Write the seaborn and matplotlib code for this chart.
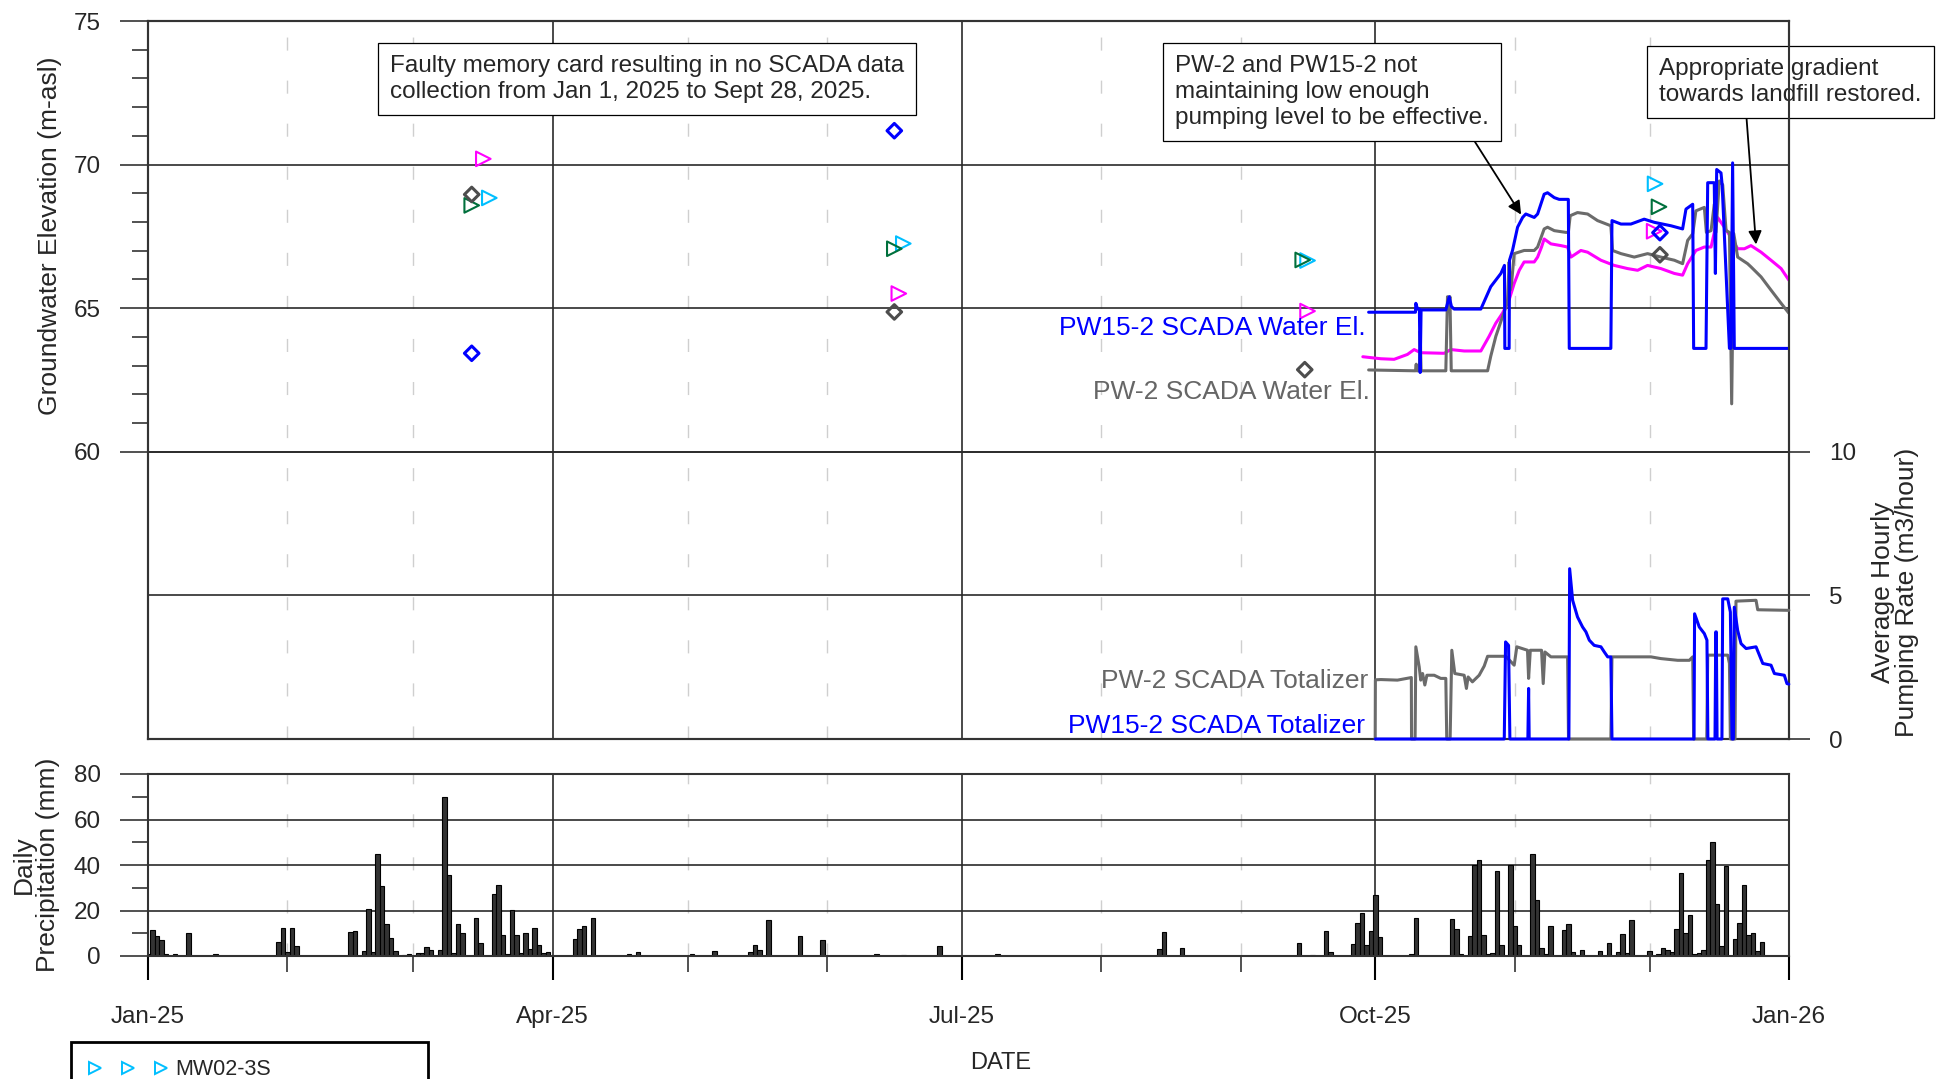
import numpy as np
import pandas as pd
import matplotlib
matplotlib.use("Agg")
import matplotlib.pyplot as plt
import matplotlib.dates as mdates
from matplotlib.ticker import FixedLocator
from matplotlib.lines import Line2D
import seaborn as sns

# ---------------------------------------------------------------- data
# PW15-2 SCADA water elevation (m-asl)
pw15_wl_time = [
    "2025-09-29 12:00", "2025-10-09 22:00", "2025-10-10 00:00", "2025-10-10 09:00",
    "2025-10-10 19:00", "2025-10-10 23:00", "2025-10-11 04:00", "2025-10-16 16:00",
    "2025-10-17 10:00", "2025-10-17 22:00", "2025-10-18 12:00", "2025-10-24 11:00",
    "2025-10-26 16:00", "2025-10-28 22:00", "2025-10-29 17:00", "2025-10-29 19:00",
    "2025-10-30 18:00", "2025-10-30 20:00", "2025-10-31 12:00", "2025-11-01 15:00",
    "2025-11-02 18:00", "2025-11-03 11:00", "2025-11-05 08:00", "2025-11-06 02:00",
    "2025-11-07 13:00", "2025-11-08 07:00", "2025-11-09 19:00", "2025-11-10 21:00",
    "2025-11-12 22:00", "2025-11-13 03:00", "2025-11-22 09:00", "2025-11-22 15:00",
    "2025-11-24 15:00", "2025-11-26 20:00", "2025-11-29 19:00", "2025-12-02 01:00",
    "2025-12-05 18:00", "2025-12-08 08:00", "2025-12-09 02:00", "2025-12-10 14:00",
    "2025-12-10 19:00", "2025-12-13 13:00", "2025-12-13 22:00", "2025-12-15 09:00",
    "2025-12-15 15:00", "2025-12-15 22:00", "2025-12-16 21:00", "2025-12-17 03:00",
    "2025-12-18 18:00", "2025-12-19 02:00", "2025-12-19 11:00", "2025-12-19 20:00",
    "2025-12-31 23:00",
]
pw15_wl_elev = [
    64.86, 64.86, 65.17, 64.97, 64.97, 62.76, 64.94, 64.94,
    65.40, 65.06, 64.97, 64.97, 65.75, 66.21, 66.49, 63.60,
    63.60, 66.67, 67.01, 67.82, 68.16, 68.28, 68.16, 68.28,
    68.97, 69.02, 68.85, 68.79, 68.79, 63.60, 63.60, 68.05,
    67.93, 67.93, 68.10, 67.99, 67.87, 67.76, 68.45, 68.62,
    63.60, 63.60, 69.37, 69.37, 66.21, 69.83, 69.71, 69.30,
    63.60, 63.60, 70.06, 63.60, 63.60,
]

# PW-2 SCADA water elevation (m-asl)
pw2_wl_time = [
    "2025-09-29 12:00", "2025-10-09 22:00", "2025-10-10 02:00", "2025-10-10 05:00",
    "2025-10-10 19:00", "2025-10-10 23:00", "2025-10-11 04:00", "2025-10-16 16:00",
    "2025-10-17 01:00", "2025-10-17 06:00", "2025-10-17 14:00", "2025-10-17 21:00",
    "2025-10-25 23:00", "2025-10-26 16:00", "2025-10-27 19:00", "2025-10-29 07:00",
    "2025-10-30 09:00", "2025-10-30 18:00", "2025-10-31 00:00", "2025-10-31 07:00",
    "2025-10-31 21:00", "2025-11-03 02:00", "2025-11-05 08:00", "2025-11-06 02:00",
    "2025-11-07 13:00", "2025-11-08 07:00", "2025-11-09 19:00", "2025-11-12 09:00",
    "2025-11-12 22:00", "2025-11-13 08:00", "2025-11-14 23:00", "2025-11-17 05:00",
    "2025-11-19 10:00", "2025-11-22 09:00", "2025-11-22 18:00", "2025-11-24 15:00",
    "2025-11-27 14:00", "2025-11-30 13:00", "2025-12-03 12:00", "2025-12-06 12:00",
    "2025-12-08 08:00", "2025-12-09 11:00", "2025-12-10 14:00", "2025-12-11 07:00",
    "2025-12-13 04:00", "2025-12-13 15:00", "2025-12-14 16:00", "2025-12-15 09:00",
    "2025-12-15 18:00", "2025-12-16 12:00", "2025-12-17 06:00", "2025-12-18 00:00",
    "2025-12-18 18:00", "2025-12-19 06:00", "2025-12-19 17:00", "2025-12-20 14:00",
    "2025-12-22 19:00", "2025-12-23 13:00", "2025-12-25 19:00", "2025-12-28 00:00",
    "2025-12-30 06:00", "2025-12-31 23:00",
]
pw2_wl_elev = [
    62.85, 62.82, 63.05, 62.82, 62.82, 64.20, 62.82, 62.82,
    65.40, 64.90, 65.40, 62.82, 62.82, 63.33, 64.02, 64.71,
    65.20, 66.61, 65.63, 65.86, 66.90, 67.01, 67.01, 67.13,
    67.76, 67.82, 67.70, 67.64, 67.64, 68.22, 68.33, 68.28,
    68.05, 67.87, 67.01, 66.90, 66.78, 66.90, 66.78, 66.67,
    66.55, 67.36, 67.59, 68.39, 68.51, 67.64, 67.70, 68.62,
    67.64, 69.43, 69.30, 67.70, 67.64, 61.67, 67.60, 66.78,
    66.55, 66.44, 66.09, 65.63, 65.17, 64.83,
]

# monitoring-well transducer water elevation (m-asl)
mw_wl_time = [
    "2025-09-28 05:00", "2025-10-02 05:00", "2025-10-05 04:00", "2025-10-08 03:00",
    "2025-10-09 15:00", "2025-10-11 02:00", "2025-10-16 07:00", "2025-10-17 19:00",
    "2025-10-20 18:00", "2025-10-24 11:00", "2025-10-26 07:00", "2025-10-27 19:00",
    "2025-10-29 07:00", "2025-10-30 18:00", "2025-10-31 21:00", "2025-11-02 00:00",
    "2025-11-03 02:00", "2025-11-05 08:00", "2025-11-06 02:00", "2025-11-06 23:00",
    "2025-11-07 13:00", "2025-11-09 01:00", "2025-11-11 06:00", "2025-11-12 18:00",
    "2025-11-13 12:00", "2025-11-15 17:00", "2025-11-17 05:00", "2025-11-20 04:00",
    "2025-11-23 03:00", "2025-11-26 02:00", "2025-11-28 08:00", "2025-11-30 13:00",
    "2025-12-03 12:00", "2025-12-06 12:00", "2025-12-08 08:00", "2025-12-09 11:00",
    "2025-12-11 07:00", "2025-12-13 04:00", "2025-12-14 16:00", "2025-12-16 03:00",
    "2025-12-17 15:00", "2025-12-19 02:00", "2025-12-20 14:00", "2025-12-22 02:00",
    "2025-12-23 13:00", "2025-12-25 19:00", "2025-12-28 00:00", "2025-12-30 06:00",
    "2025-12-31 23:00",
]
mw_wl_elev = [
    63.31, 63.24, 63.22, 63.39, 63.56, 63.45, 63.43, 63.56,
    63.51, 63.51, 64.02, 64.48, 64.83, 65.29, 65.86, 66.32,
    66.61, 66.61, 66.78, 67.13, 67.41, 67.24, 67.18, 67.13,
    66.78, 67.01, 66.95, 66.67, 66.49, 66.38, 66.32, 66.49,
    66.38, 66.21, 66.15, 66.55, 67.01, 67.13, 67.13, 68.16,
    67.82, 67.47, 67.07, 67.07, 67.18, 66.95, 66.67, 66.38,
    65.98,
]

# PW-2 SCADA totalizer, average hourly pumping rate (m3/hour)
pw2_rate_time = [
    "2025-09-30 23:00", "2025-10-01 00:00", "2025-10-02 05:00", "2025-10-05 22:00",
    "2025-10-09 00:00", "2025-10-09 01:00", "2025-10-09 20:00", "2025-10-10 00:00",
    "2025-10-10 18:00", "2025-10-11 02:00", "2025-10-11 12:00", "2025-10-12 00:00",
    "2025-10-12 11:00", "2025-10-14 02:00", "2025-10-15 13:00", "2025-10-16 16:00",
    "2025-10-16 21:00", "2025-10-17 15:00", "2025-10-18 00:00", "2025-10-18 16:00",
    "2025-10-20 18:00", "2025-10-21 06:00", "2025-10-21 15:00", "2025-10-22 14:00",
    "2025-10-24 02:00", "2025-10-25 05:00", "2025-10-25 23:00", "2025-10-30 00:00",
    "2025-10-31 21:00", "2025-11-01 11:00", "2025-11-03 20:00", "2025-11-04 02:00",
    "2025-11-04 11:00", "2025-11-06 23:00", "2025-11-07 08:00", "2025-11-07 17:00",
    "2025-11-09 01:00", "2025-11-12 18:00", "2025-11-12 23:00", "2025-11-22 09:00",
    "2025-11-22 15:00", "2025-12-01 07:00", "2025-12-03 12:00", "2025-12-07 06:00",
    "2025-12-09 20:00", "2025-12-10 14:00", "2025-12-10 19:00", "2025-12-13 17:00",
    "2025-12-13 22:00", "2025-12-18 09:00", "2025-12-18 18:00", "2025-12-18 23:00",
    "2025-12-20 00:00", "2025-12-20 05:00", "2025-12-24 16:00", "2025-12-25 01:00",
    "2025-12-31 23:00",
]
pw2_rate = [
    0.00, 2.06, 2.07, 2.05, 2.14, 0.00, 0.00, 3.21,
    2.51, 2.05, 2.28, 1.88, 2.22, 2.22, 2.11, 2.11,
    0.00, 0.00, 3.09, 2.28, 2.22, 1.76, 2.16, 1.99,
    2.22, 2.54, 2.88, 2.88, 2.57, 3.21, 3.09, 2.11,
    3.09, 3.09, 1.93, 3.03, 2.86, 2.86, 0.00, 0.00,
    2.86, 2.86, 2.80, 2.74, 2.74, 2.86, 0.00, 0.00,
    2.92, 2.92, 2.63, 0.00, 0.00, 4.80, 4.83, 4.50,
    4.48,
]

# PW15-2 SCADA totalizer, average hourly pumping rate (m3/hour)
pw15_rate_time = [
    "2025-10-01 00:00", "2025-10-29 16:00", "2025-10-29 23:00", "2025-10-30 15:00",
    "2025-10-30 22:00", "2025-11-03 22:00", "2025-11-04 02:00", "2025-11-04 05:00",
    "2025-11-13 01:00", "2025-11-13 05:00", "2025-11-13 21:00", "2025-11-14 23:00",
    "2025-11-16 02:00", "2025-11-16 20:00", "2025-11-17 14:00", "2025-11-18 16:00",
    "2025-11-20 04:00", "2025-11-20 22:00", "2025-11-21 16:00", "2025-11-22 09:00",
    "2025-11-22 15:00", "2025-12-10 21:00", "2025-12-11 00:00", "2025-12-12 01:00",
    "2025-12-13 04:00", "2025-12-13 18:00", "2025-12-13 23:00", "2025-12-15 13:00",
    "2025-12-15 17:00", "2025-12-15 20:00", "2025-12-16 00:00", "2025-12-17 02:00",
    "2025-12-17 06:00", "2025-12-18 09:00", "2025-12-18 23:00", "2025-12-19 08:00",
    "2025-12-19 15:00", "2025-12-19 20:00", "2025-12-20 14:00", "2025-12-21 08:00",
    "2025-12-22 11:00", "2025-12-24 16:00", "2025-12-25 10:00", "2025-12-26 04:00",
    "2025-12-28 00:00", "2025-12-28 18:00", "2025-12-30 23:00", "2025-12-31 13:00",
    "2025-12-31 23:00",
]
pw15_rate = [
    0.00, 0.00, 3.38, 3.26, 0.00, 0.00, 1.76, 0.00,
    0.00, 5.93, 4.83, 4.25, 3.90, 3.73, 3.44, 3.26,
    3.21, 3.03, 2.86, 2.86, 0.00, 0.00, 4.36, 3.90,
    3.67, 3.44, 0.00, 0.00, 3.73, 3.73, 0.00, 0.00,
    4.88, 4.88, 4.42, 0.00, 0.00, 4.59, 3.78, 3.32,
    3.15, 3.21, 2.92, 2.63, 2.57, 2.28, 2.22, 1.93,
    1.91,
]

# manual water level measurements (m-asl)
mw02_3s_time = ["2025-03-17 22:00", "2025-06-18 00:00", "2025-09-15 22:00", "2025-12-02 05:00"]
mw02_3s_elev = [68.84, 67.25, 66.66, 69.33]
green_well_time = ["2025-03-14 00:00", "2025-06-16 00:00", "2025-09-14 20:00", "2025-12-03 02:00"]
green_well_elev = [68.58, 67.07, 66.68, 68.53]
magenta_well_time = ["2025-03-16 14:00", "2025-06-17 00:00", "2025-09-15 22:00", "2025-12-02 00:00"]
magenta_well_elev = [70.20, 65.51, 64.90, 67.68]
pw15_manual_time = ["2025-03-14 00:00", "2025-06-16 00:00", "2025-12-03 07:00"]
pw15_manual_elev = [63.43, 71.18, 67.63]
pw2_manual_time = ["2025-03-14 00:00", "2025-06-16 00:00", "2025-09-15 07:00", "2025-12-03 07:00"]
pw2_manual_elev = [68.96, 64.87, 62.86, 66.86]

# daily precipitation (mm); days not listed had none
precip_date = [
    "2025-01-01", "2025-01-02", "2025-01-03", "2025-01-04", "2025-01-05", "2025-01-07",
    "2025-01-10", "2025-01-16", "2025-01-30", "2025-01-31", "2025-02-01", "2025-02-02",
    "2025-02-03", "2025-02-15", "2025-02-16", "2025-02-18", "2025-02-19", "2025-02-20",
    "2025-02-21", "2025-02-22", "2025-02-23", "2025-02-24", "2025-02-25", "2025-02-27",
    "2025-02-28", "2025-03-02", "2025-03-03", "2025-03-04", "2025-03-05", "2025-03-07",
    "2025-03-08", "2025-03-09", "2025-03-10", "2025-03-11", "2025-03-12", "2025-03-15",
    "2025-03-16", "2025-03-19", "2025-03-20", "2025-03-21", "2025-03-22", "2025-03-23",
    "2025-03-24", "2025-03-25", "2025-03-26", "2025-03-27", "2025-03-28", "2025-03-29",
    "2025-03-30", "2025-03-31", "2025-04-06", "2025-04-07", "2025-04-08", "2025-04-10",
    "2025-04-18", "2025-04-20", "2025-05-02", "2025-05-07", "2025-05-15", "2025-05-16",
    "2025-05-17", "2025-05-19", "2025-05-26", "2025-05-31", "2025-06-12", "2025-06-18",
    "2025-06-26", "2025-07-09", "2025-08-14", "2025-08-15", "2025-08-19", "2025-09-14",
    "2025-09-17", "2025-09-20", "2025-09-21", "2025-09-26", "2025-09-27", "2025-09-28",
    "2025-09-29", "2025-09-30", "2025-10-01", "2025-10-02", "2025-10-09", "2025-10-10",
    "2025-10-18", "2025-10-19", "2025-10-20", "2025-10-22", "2025-10-23", "2025-10-24",
    "2025-10-25", "2025-10-26", "2025-10-27", "2025-10-28", "2025-10-29", "2025-10-31",
    "2025-11-01", "2025-11-02", "2025-11-05", "2025-11-06", "2025-11-07", "2025-11-08",
    "2025-11-09", "2025-11-12", "2025-11-13", "2025-11-14", "2025-11-16", "2025-11-20",
    "2025-11-22", "2025-11-24", "2025-11-25", "2025-11-26", "2025-11-27", "2025-12-01",
    "2025-12-03", "2025-12-04", "2025-12-05", "2025-12-06", "2025-12-07", "2025-12-08",
    "2025-12-09", "2025-12-10", "2025-12-11", "2025-12-12", "2025-12-13", "2025-12-14",
    "2025-12-15", "2025-12-16", "2025-12-17", "2025-12-18", "2025-12-20", "2025-12-21",
    "2025-12-22", "2025-12-23", "2025-12-24", "2025-12-25", "2025-12-26",
]
precip_mm = [
    1.0, 11.5, 8.8, 7.1, 0.7, 0.9,
    10.3, 0.7, 6.0, 12.5, 1.6, 12.5,
    4.6, 10.5, 11.2, 2.2, 20.6, 1.6,
    44.8, 30.9, 14.1, 8.1, 2.2, 0.6,
    0.8, 1.2, 1.5, 3.8, 2.5, 2.7,
    70.1, 35.5, 1.5, 14.0, 9.9, 16.8,
    5.6, 27.3, 31.2, 9.1, 1.0, 20.2,
    9.3, 1.5, 9.9, 3.1, 12.1, 4.7,
    1.2, 1.6, 7.4, 11.8, 13.3, 16.9,
    0.7, 1.6, 0.7, 2.2, 1.6, 4.7,
    2.5, 15.8, 8.8, 7.0, 1.0, 0.6,
    4.4, 0.7, 2.9, 10.7, 3.4, 5.9,
    0.6, 11.2, 1.6, 5.3, 14.4, 18.8,
    5.0, 10.9, 26.8, 8.5, 0.7, 16.6,
    16.3, 11.9, 0.7, 8.8, 39.8, 42.0,
    9.3, 0.7, 1.2, 37.2, 4.7, 39.8,
    13.2, 4.9, 44.8, 24.7, 3.4, 0.7,
    13.4, 11.5, 14.1, 1.6, 2.5, 2.2,
    5.7, 1.6, 9.7, 1.2, 16.0, 2.4,
    0.7, 3.7, 2.6, 1.6, 11.8, 36.6,
    10.1, 17.9, 0.7, 1.5, 2.6, 42.3,
    50.0, 22.8, 4.6, 39.7, 7.4, 14.4,
    31.0, 9.3, 10.3, 2.4, 6.0,
]

x_start, x_end = "2025-01-01", "2026-01-01"
elev_ticks = [60, 65, 70, 75]
rate_ticks = [0, 5, 10]
precip_ticks = [0, 20, 40, 60, 80]

# ---------------------------------------------------------------- style
sns.set_style("white")
plt.rcParams["font.family"] = ["Liberation Sans", "DejaVu Sans"]

BLUE = "#0000FF"
GREY = "#6B6B6B"
MAGENTA = "#FF00FF"
CYAN = "#00BFFF"
GREEN = "#00703C"
DKGREY = "#4D4D4D"
GRID = "#2A2A2A"
SPINE = "#333333"

W, H = 1944, 1079
fig = plt.figure(figsize=(W / 100, H / 100), dpi=100)


def fx(px):
    return px / W


def fy(py):
    return 1 - py / H


def dn(times):
    return mdates.date2num(pd.to_datetime(times).to_pydatetime())


ax1 = fig.add_axes([fx(148), fy(739), fx(1789) - fx(148), fy(21) - fy(739)])
ax2 = ax1.twinx()
ax3 = fig.add_axes([fx(148), fy(956), fx(1789) - fx(148), fy(774) - fy(956)])

dash = (0, (9.4, 21.6))

# ---------------------------------------------------------------- elevation lines
def draw_line(ax, t, v, color, lw=2.2, z=3, clip=True):
    sns.lineplot(x=dn(t), y=v, ax=ax, color=color, linewidth=lw,
                 estimator=None, sort=False, zorder=z, clip_on=clip)


draw_line(ax1, mw_wl_time, mw_wl_elev, MAGENTA, z=3)
draw_line(ax1, pw2_wl_time, pw2_wl_elev, GREY, z=3.1)
draw_line(ax1, pw15_wl_time, pw15_wl_elev, BLUE, z=3.2)


def draw_points(ax, t, v, marker, color, s, lw):
    sns.scatterplot(x=dn(t), y=v, ax=ax, marker=marker, s=s, color=color,
                    facecolor="none", edgecolor=color, linewidth=lw, zorder=6)


draw_points(ax1, mw02_3s_time, mw02_3s_elev, ">", CYAN, 110, 1.5)
draw_points(ax1, green_well_time, green_well_elev, ">", GREEN, 110, 1.5)
draw_points(ax1, magenta_well_time, magenta_well_elev, ">", MAGENTA, 110, 1.5)
draw_points(ax1, pw15_manual_time, pw15_manual_elev, "D", BLUE, 55, 2.2)
draw_points(ax1, pw2_manual_time, pw2_manual_elev, "D", DKGREY, 55, 2.2)

# ---------------------------------------------------------------- pumping rate lines
draw_line(ax2, pw2_rate_time, pw2_rate, GREY, z=3, clip=False)
draw_line(ax2, pw15_rate_time, pw15_rate, BLUE, z=3.1, clip=False)

# ---------------------------------------------------------------- precipitation bars
sns.barplot(x=dn(precip_date), y=precip_mm, ax=ax3, native_scale=True,
            errorbar=None, color="#333333", saturation=1, width=1.0,
            edgecolor="black", linewidth=0.8, orient="x")

# ---------------------------------------------------------------- axes formatting
xlim = (dn([x_start])[0], dn([x_end])[0])
for ax in (ax1, ax2, ax3):
    ax.set_xlim(*xlim)
    ax.set_xlabel("")
    ax.set_ylabel("")
    for sp in ax.spines.values():
        sp.set_color(SPINE)
        sp.set_linewidth(1.5)

for ax in (ax1, ax3):
    ax.xaxis.set_major_locator(mdates.MonthLocator(bymonth=[1, 4, 7, 10]))
    ax.xaxis.set_minor_locator(mdates.MonthLocator())
    ax.grid(axis="x", which="major", color=GRID, linewidth=1.2)
    ax.grid(axis="x", which="minor", color="#cfcfcf", linewidth=1.0, linestyle=dash)

# groundwater elevation axis
ax1.set_ylim(50, 75)
ax1.yaxis.set_major_locator(FixedLocator(elev_ticks))
ax1.yaxis.set_minor_locator(FixedLocator([61, 62, 63, 64, 66, 67, 68, 69, 71, 72, 73, 74]))
ax1.tick_params(axis="x", which="both", length=0, labelbottom=False)
ax1.tick_params(axis="y", which="major", direction="out", length=20, width=1.2,
                pad=14, labelsize=17.5, color=SPINE, left=True)
ax1.tick_params(axis="y", which="minor", direction="out", length=11.5, width=1.2,
                color=SPINE, left=True)
ax1.grid(axis="y", which="major", color=GRID, linewidth=1.2)

# pumping-rate axis
ax2.set_ylim(0, 25)
ax2.yaxis.set_major_locator(FixedLocator(rate_ticks))
ax2.tick_params(axis="y", which="major", direction="out", length=15, width=1.2,
                pad=14, labelsize=17.5, color=SPINE, right=True)
ax2.grid(axis="y", which="major", color=GRID, linewidth=1.2)

# precipitation axis
ax3.set_ylim(0, 80)
ax3.yaxis.set_major_locator(FixedLocator(precip_ticks))
ax3.yaxis.set_minor_locator(FixedLocator([10, 30, 50, 70]))
ax3.tick_params(axis="y", which="major", direction="out", length=20, width=1.2,
                pad=14, labelsize=17.5, color=SPINE, left=True)
ax3.tick_params(axis="y", which="minor", direction="out", length=11.5, width=1.2,
                color=SPINE, left=True)
ax3.grid(axis="y", which="major", color=GRID, linewidth=1.2)
ax3.xaxis.set_major_formatter(mdates.DateFormatter("%b-%y"))
ax3.tick_params(axis="x", which="major", direction="out", length=17, width=1.5,
                pad=19, labelsize=17.5, color="black", bottom=True)
ax3.tick_params(axis="x", which="minor", direction="out", length=11.5, width=1.2,
                color=SPINE, bottom=True)

# ---------------------------------------------------------------- axis titles
fig.text(fx(50), fy(236), "Groundwater Elevation (m-asl)", rotation=90,
         ha="center", va="center", fontsize=19)
fig.text(fx(1895), fy(592), "Average Hourly\nPumping Rate (m3/hour)", rotation=90,
         ha="center", va="center", fontsize=19, linespacing=1.05)
fig.text(fx(36), fy(865), "Daily\nPrecipitation (mm)", rotation=90,
         ha="center", va="center", fontsize=19, linespacing=1.05)
fig.text(fx(1001), fy(1063), "DATE", ha="center", va="center", fontsize=17)

# series labels
fig.text(fx(1366), fy(335), "PW15-2 SCADA Water El.", ha="right", va="baseline",
         fontsize=19, color=BLUE)
fig.text(fx(1370), fy(399), "PW-2 SCADA Water El.", ha="right", va="baseline",
         fontsize=19, color="#666666")
fig.text(fx(1368), fy(688), "PW-2 SCADA Totalizer", ha="right", va="baseline",
         fontsize=19, color="#666666")
fig.text(fx(1365), fy(733), "PW15-2 SCADA Totalizer", ha="right", va="baseline",
         fontsize=19, color=BLUE)

# ---------------------------------------------------------------- call-outs
PAD = 12  # box padding in pixels (0.5 of the 24 px font)
box = dict(boxstyle="square,pad=0.5", fc="white", ec="black", lw=0.9)
note_kw = dict(textcoords="figure pixels", ha="left", va="top", fontsize=17.5,
               linespacing=1.24, bbox=box, annotation_clip=False, zorder=10)

ax1.annotate("Faulty memory card resulting in no SCADA data\n"
             "collection from Jan 1, 2025 to Sept 28, 2025.",
             xy=(378 + PAD, H - 43 - PAD), xycoords="figure pixels",
             xytext=(378 + PAD, H - 43 - PAD), **note_kw)

ax1.annotate("PW-2 and PW15-2 not\nmaintaining low enough\npumping level to be effective.",
             xy=(dn(["2025-11-02 10:00"])[0], 68.26), xycoords="data",
             xytext=(1163 + PAD, H - 43 - PAD),
             arrowprops=dict(arrowstyle="-|>", color="black", lw=1.3, mutation_scale=20,
                             shrinkA=0, shrinkB=0, relpos=(0.93, 0.0)),
             **note_kw)

ax1.annotate("Appropriate gradient\ntowards landfill restored.",
             xy=(dn(["2025-12-24 16:00"])[0], 67.22), xycoords="data",
             xytext=(1647 + PAD, H - 46 - PAD),
             arrowprops=dict(arrowstyle="-|>", color="black", lw=1.3, mutation_scale=20,
                             shrinkA=0, shrinkB=0, relpos=(0.33, 0.0)),
             **note_kw)

# ---------------------------------------------------------------- legend
handle = Line2D([], [], marker=">", linestyle="none", markerfacecolor="none",
                markeredgecolor=CYAN, markeredgewidth=1.4, markersize=8)
leg = fig.legend(handles=[handle], labels=["MW02-3S"], loc="upper left",
                 bbox_to_anchor=(fx(71), 0, fx(428) - fx(71), fy(1042)),
                 bbox_transform=fig.transFigure, mode="expand", numpoints=3,
                 handlelength=3.7, handletextpad=0.35, borderpad=0.8,
                 borderaxespad=0, fontsize=15.5, frameon=True, fancybox=False,
                 edgecolor="black", framealpha=1)
leg.get_frame().set_linewidth(2)
leg.set_zorder(20)

fig.savefig("out.png", dpi=100)
